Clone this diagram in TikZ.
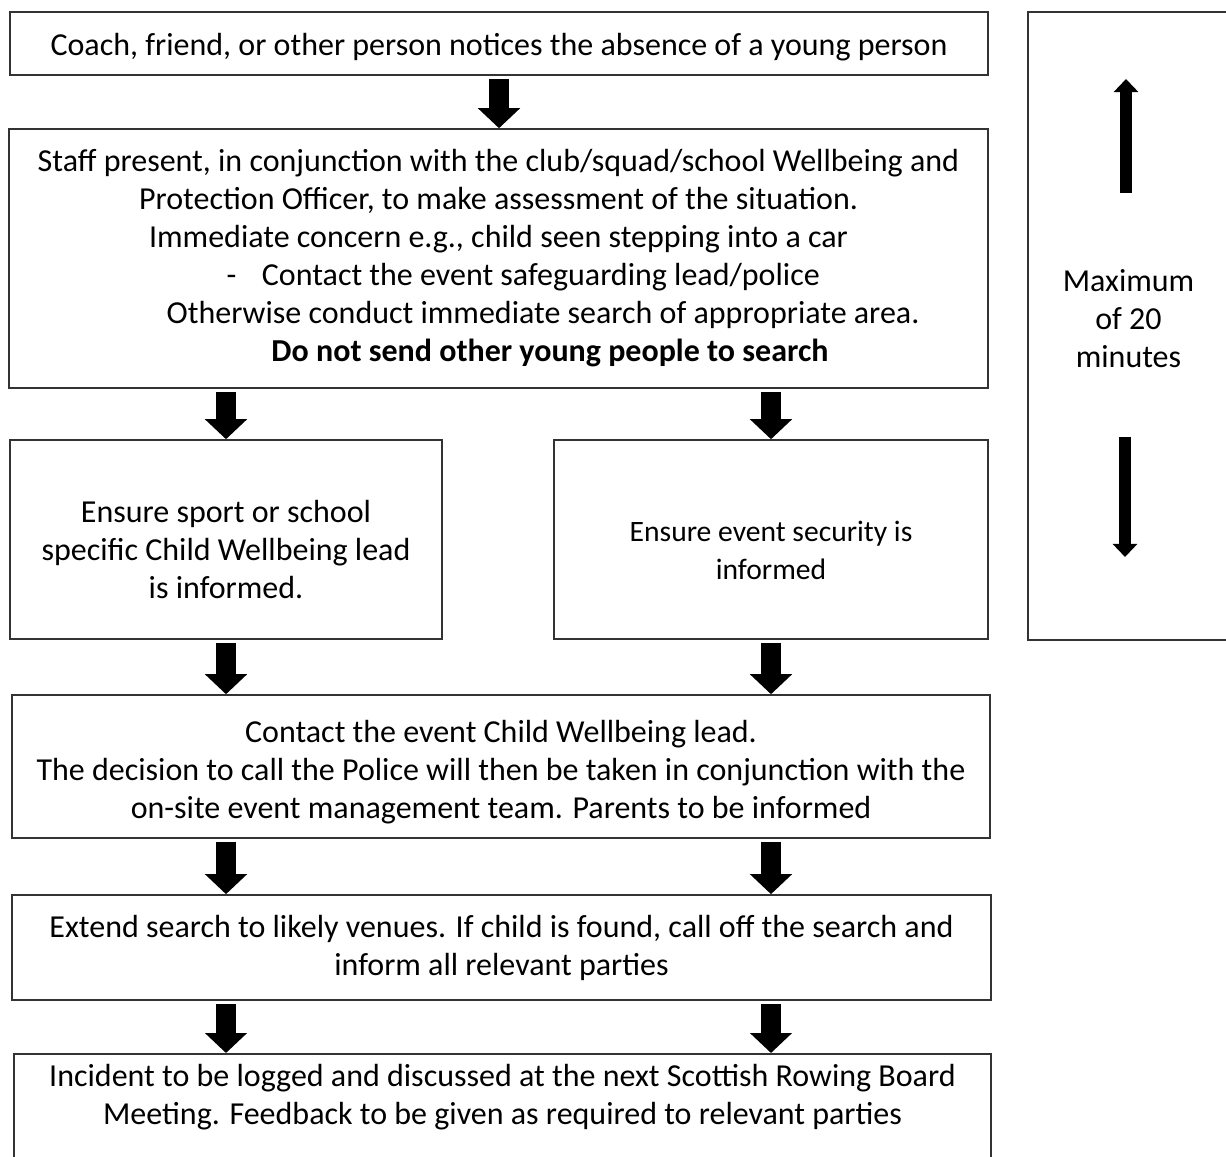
\documentclass[tikz,border=0pt]{standalone}
\usepackage{fontspec}
\setmainfont{Carlito}
\usetikzlibrary{arrows.meta,positioning}
\tikzset{%
  block/.style    = {draw=black!80, line width=0.6pt, rectangle, align=center,
    inner sep=0pt, font=\boxfont},
  flow/.style     = {line width=7.5pt, shorten <=1.2pt,
    -{Triangle[width=15.4pt, length=7.5pt]}}, % Fat arrow
  tick/.style     = {line width=4.5pt, -{Triangle[width=9pt, length=4.9pt]}} % Time arrow
}
\newcommand{\boxfont}{\fontsize{12}{14.25}\selectfont}
\newcommand{\smallboxfont}{\fontsize{11.1}{14.25}\selectfont}

\begin{document}
\begin{tikzpicture}[x=0.375pt, y=-0.375pt]
        \useasboundingbox (0,0) rectangle (1226,1157);
        \draw
            node [block, minimum width=366.75pt, minimum height=23.6pt, text height=11.2pt] (notice) at (499,43.5)
                {Coach, friend, or other person notices the absence of a young person}
            node [block, minimum width=367.1pt, minimum height=97.1pt] (staff) at (498.5,258.5)
                {Staff present, in conjunction with the club/squad/school Wellbeing and\\
                 Protection Officer, to make assessment of the situation.\\
                 Immediate concern e.g., child seen stepping into a car\\
                 \hspace*{18.5pt}-\hspace{9.6pt}Contact the event safeguarding lead/police\\
                 \hspace*{33.4pt}Otherwise conduct immediate search of appropriate area.\\
                 \hspace*{38.6pt}\textbf{Do not send other young people to search}}
            node [block, minimum width=162pt, minimum height=74.6pt, text height=44.3pt] (lead) at (226,539.5)
                {Ensure sport or school\\specific Child Wellbeing lead\\is informed.}
            node [block, minimum width=162.75pt, minimum height=74.6pt, text height=30.1pt,
                  font=\smallboxfont] (security) at (771,539.5)
                {Ensure event security is\\informed}
            node [block, minimum width=75.4pt, minimum height=235.5pt, text depth=6pt] (timer) at (1128.5,326)
                {Maximum\\of 20\\minutes}
            node [block, minimum width=366.75pt, minimum height=53.6pt, text height=41.3pt] (contact) at (501,766.5)
                {Contact the event Child Wellbeing lead.\\
                 The decision to call the Police will then be taken in conjunction with the\\
                 on-site event management team. Parents to be informed}
            node [block, minimum width=367.1pt, minimum height=39.4pt] (extend) at (501.5,947.5)
                {Extend search to likely venues. If child is found, call off the search and\\
                 inform all relevant parties}
            node [block, minimum width=366.4pt, anchor=north, text height=26.65pt,
                  text depth=40pt] (logged) at (502.5,1053)
                {Incident to be logged and discussed at the next Scottish Rowing Board\\
                 Meeting. Feedback to be given as required to relevant parties};

            \draw[flow] (notice.south) -- (notice.south |- staff.north);
            \draw[flow] (lead.north |- staff.south) -- (lead.north);
            \draw[flow] (security.north |- staff.south) -- (security.north);
            \draw[flow] (lead.south) -- (lead.south |- contact.north);
            \draw[flow] (security.south) -- (security.south |- contact.north);
            \draw[flow] (lead.south |- contact.south) -- (lead.south |- extend.north);
            \draw[flow] (security.south |- contact.south) -- (security.south |- extend.north);
            \draw[flow] (lead.south |- extend.south) -- (lead.south |- logged.north);
            \draw[flow] (security.south |- extend.south) -- (security.south |- logged.north);

            % the 20 minutes span
            \coordinate (uptail) at (1126,193);
            \coordinate (uphead) at (1126,79);
            \coordinate (downtail) at (1125,437);
            \coordinate (downhead) at (1125,557);
            \draw[tick] (uptail) -- (uphead);
            \draw[tick] (downtail) -- (downhead);
        \end{tikzpicture}
\end{document}
